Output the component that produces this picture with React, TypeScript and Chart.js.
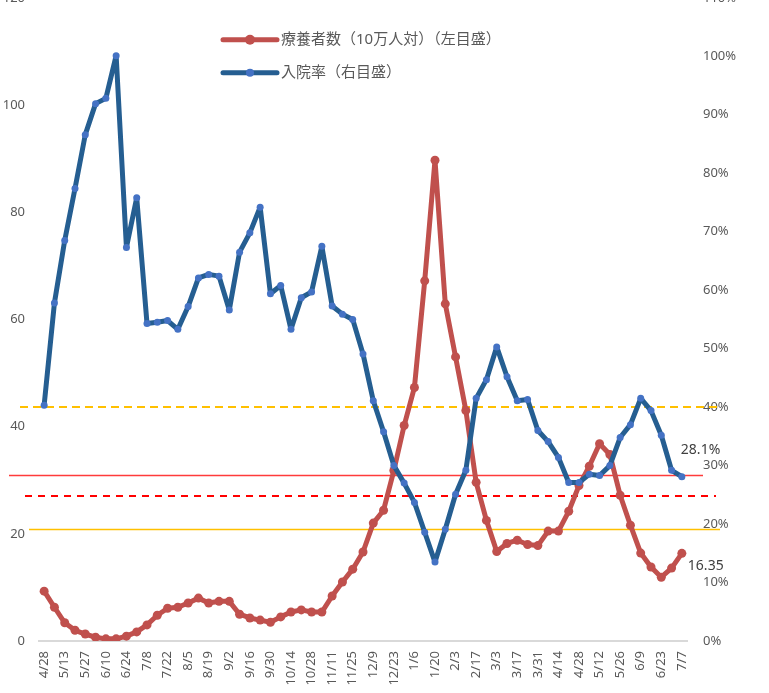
import React, { useEffect, useRef } from 'react';
import { Chart, registerables } from 'chart.js';

Chart.register(...registerables);

const dateLabels = [
  '4/28', '5/6', '5/13', '5/20', '5/27', '6/3', '6/10', '6/17', '6/24', '7/1',
  '7/8', '7/15', '7/22', '7/29', '8/5', '8/12', '8/19', '8/26', '9/2', '9/9',
  '9/16', '9/23', '9/30', '10/7', '10/14', '10/21', '10/28', '11/4', '11/11', '11/18',
  '11/25', '12/2', '12/9', '12/16', '12/23', '12/30', '1/6', '1/13', '1/20', '1/27',
  '2/3', '2/10', '2/17', '2/24', '3/3', '3/10', '3/17', '3/24', '3/31', '4/7',
  '4/14', '4/21', '4/28', '5/5', '5/12', '5/19', '5/26', '6/2', '6/9', '6/16',
  '6/23', '6/30', '7/7',
];

// 療養者数（10万人対）— left axis
const ryoyoshaPer100k = [
  9.3, 6.3, 3.4, 2.0, 1.3, 0.7, 0.4, 0.4, 0.9, 1.7,
  3.0, 4.8, 6.1, 6.3, 7.1, 8.0, 7.1, 7.4, 7.4, 5.0,
  4.3, 3.9, 3.5, 4.5, 5.4, 5.8, 5.4, 5.4, 8.4, 11.0,
  13.4, 16.6, 22.0, 24.4, 31.8, 40.2, 47.3, 67.2, 89.7, 62.9,
  53.0, 43.0, 29.6, 22.5, 16.7, 18.2, 18.8, 18.0, 17.8, 20.5,
  20.5, 24.2, 29.0, 32.6, 36.8, 34.8, 27.2, 21.6, 16.4, 13.8,
  11.9, 13.6, 16.35,
];

// 入院率 (%) — right axis
const nyuinRitsu = [
  40.3, 57.8, 68.5, 77.4, 86.6, 91.9, 92.8, 100.1, 67.3, 75.8,
  54.3, 54.5, 54.8, 53.3, 57.2, 62.1, 62.7, 62.4, 56.6, 66.5,
  69.8, 74.2, 59.4, 60.8, 53.3, 58.7, 59.7, 67.5, 57.3, 55.9,
  55.0, 49.1, 41.1, 35.8, 30.0, 27.0, 23.7, 18.6, 13.5, 19.1,
  25.1, 29.2, 41.5, 44.7, 50.3, 45.2, 41.1, 41.3, 36.0, 34.1,
  31.4, 27.1, 27.1, 28.5, 28.3, 30.0, 34.8, 37.0, 41.5, 39.4,
  35.2, 29.2, 28.1,
];

const legendLabels = ['療養者数（10万人対）（左目盛）', '入院率（右目盛）'];

// Reference (threshold) lines: which axis and value
const thresholdAxes = ['y2', 'y', 'y2', 'y'];
const thresholdValues = [40, 30.9, 24.8, 20.8];

const FONT = "'Noto Sans', 'Noto Sans CJK JP', sans-serif";
const RED = '#c0504d';
const BLUE_LINE = '#255e91';
const BLUE_POINT = '#4472c4';

const refStyles = [
  { color: '#ffc000', width: 2, dash: [8, 5], l: 19, r: 32 },
  { color: '#ff3b3b', width: 1.5, dash: [], l: 30, r: 16 },
  { color: '#ff0000', width: 2, dash: [7, 6], l: 14, r: 29 },
  { color: '#ffc000', width: 1.5, dash: [], l: 10, r: 33 },
];

const refLinePlugin = {
  id: 'refLines',
  beforeDatasetsDraw(chart: any) {
    const { ctx, chartArea } = chart;
    ctx.save();
    thresholdValues.forEach((v, i) => {
      const scale = chart.scales[thresholdAxes[i]];
      const y = scale.getPixelForValue(v);
      const st = refStyles[i];
      ctx.beginPath();
      ctx.setLineDash(st.dash);
      ctx.strokeStyle = st.color;
      ctx.lineWidth = st.width;
      ctx.moveTo(chartArea.left - st.l, y);
      ctx.lineTo(chartArea.right + st.r, y);
      ctx.stroke();
    });
    ctx.restore();
  },
};

const overlayPlugin = {
  id: 'overlay',
  afterDraw(chart: any) {
    const { ctx, chartArea } = chart;
    ctx.save();
    // legend
    const x0 = chartArea.left + 184;
    const rows = [
      { y: chartArea.top + 42, color: RED, point: RED, r: 5 },
      { y: chartArea.top + 75, color: BLUE_LINE, point: BLUE_POINT, r: 4 },
    ];
    rows.forEach((row, i) => {
      ctx.beginPath();
      ctx.setLineDash([]);
      ctx.lineCap = 'round';
      ctx.strokeStyle = row.color;
      ctx.lineWidth = 5;
      ctx.moveTo(x0, row.y);
      ctx.lineTo(x0 + 54, row.y);
      ctx.stroke();
      ctx.beginPath();
      ctx.fillStyle = row.point;
      ctx.arc(x0 + 27, row.y, row.r, 0, Math.PI * 2);
      ctx.fill();
      ctx.fillStyle = '#595959';
      ctx.font = `15px ${FONT}`;
      ctx.textBaseline = 'middle';
      ctx.textAlign = 'left';
      ctx.fillText(legendLabels[i], x0 + 58, row.y);
    });
    // end-value labels
    const last = dateLabels.length - 1;
    const blueMeta = chart.getDatasetMeta(1);
    const redMeta = chart.getDatasetMeta(0);
    const bp = blueMeta.data[last];
    const rp = redMeta.data[last];
    ctx.fillStyle = '#404040';
    ctx.font = `14px ${FONT}`;
    ctx.textBaseline = 'middle';
    ctx.textAlign = 'left';
    ctx.fillText(nyuinRitsu[last].toFixed(1) + '%', bp.x - 1, bp.y - 27);
    ctx.fillText(ryoyoshaPer100k[last].toFixed(2), rp.x + 6, rp.y + 13);
    ctx.restore();
  },
};

export default function App() {
  const canvasRef = useRef<HTMLCanvasElement>(null);

  useEffect(() => {
    if (!canvasRef.current) return;
    const chart = new Chart(canvasRef.current, {
      type: 'line',
      data: {
        labels: dateLabels,
        datasets: [
          {
            label: legendLabels[0],
            data: ryoyoshaPer100k,
            yAxisID: 'y',
            borderColor: RED,
            backgroundColor: RED,
            borderWidth: 5,
            borderJoinStyle: 'round',
            borderCapStyle: 'round',
            pointRadius: 4.5,
            pointBackgroundColor: RED,
            pointBorderWidth: 0,
            tension: 0,
            order: 2,
          },
          {
            label: legendLabels[1],
            data: nyuinRitsu,
            yAxisID: 'y2',
            borderColor: BLUE_LINE,
            backgroundColor: BLUE_POINT,
            borderWidth: 5,
            borderJoinStyle: 'round',
            borderCapStyle: 'round',
            pointRadius: 3.5,
            pointBackgroundColor: BLUE_POINT,
            pointBorderWidth: 0,
            tension: 0,
            order: 1,
          },
        ],
      },
      options: {
        animation: false,
        responsive: false,
        maintainAspectRatio: false,
        layout: { padding: 0 },
        plugins: {
          legend: { display: false },
          tooltip: { enabled: false },
        },
        scales: {
          x: {
            offset: true,
            grid: { display: true, color: 'rgba(0,0,0,0)', drawTicks: false },
            border: { display: true, color: '#d9d9d9', width: 2 },
            ticks: {
              autoSkip: false,
              maxRotation: 90,
              minRotation: 90,
              padding: 10,
              color: '#595959',
              font: { family: FONT, size: 13 },
              callback: (_v: any, i: number) => (i % 2 === 0 ? dateLabels[i] : ''),
            },
            afterFit: (s: any) => {
              s.height = 52;
            },
          },
          y: {
            position: 'left',
            min: 0,
            max: 120,
            grid: { display: false, drawTicks: false },
            border: { display: false },
            ticks: {
              stepSize: 20,
              padding: 14,
              color: '#595959',
              font: { family: FONT, size: 13 },
            },
            afterFit: (s: any) => {
              s.width = 39;
            },
          },
          y2: {
            position: 'right',
            min: 0,
            max: 110,
            grid: { display: false, drawTicks: false },
            border: { display: false },
            ticks: {
              stepSize: 10,
              padding: 16,
              color: '#595959',
              font: { family: FONT, size: 13 },
              callback: (v: any) => `${v}%`,
            },
            afterFit: (s: any) => {
              s.width = 82;
            },
          },
        },
      },
      plugins: [refLinePlugin, overlayPlugin],
    });
    return () => chart.destroy();
  }, []);

  return (
    <div style={{ position: 'fixed', left: 0, top: 0, width: 769, height: 693, overflow: 'hidden', background: '#fff' }}>
      <canvas
        ref={canvasRef}
        width={769}
        height={719}
        style={{ position: 'absolute', left: 0, top: -26, width: 769, height: 719 }}
      />
    </div>
  );
}
